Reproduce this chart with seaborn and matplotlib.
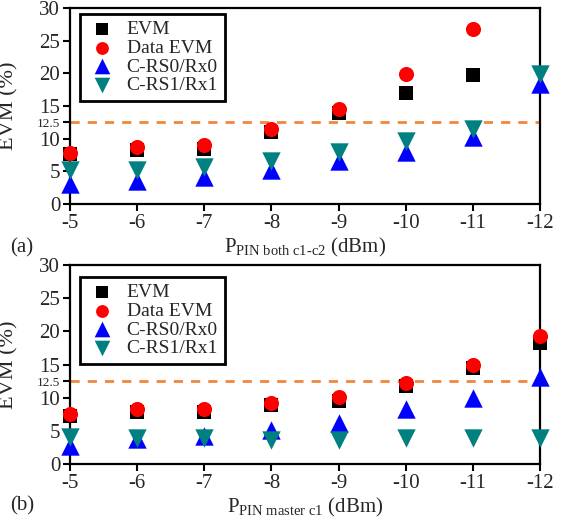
import numpy as np
import pandas as pd
import matplotlib
matplotlib.use("Agg")
import matplotlib.pyplot as plt
import seaborn as sns

# ---- data ----
x_vals = [-5, -6, -7, -8, -9, -10, -11, -12]
x_labels = ["-5", "-6", "-7", "-8", "-9", "-10", "-11", "-12"]

a_evm = [7.6, 8.2, 8.4, 11.0, 14.0, 17.0, 19.7, np.nan]
a_data_evm = [7.8, 8.8, 9.0, 11.5, 14.6, 19.9, 26.8, np.nan]
a_crs0 = [3.0, 3.5, 4.2, 5.2, 6.6, 7.9, 10.3, 18.4]
a_crs1 = [5.2, 5.2, 5.7, 6.6, 7.9, 9.6, 11.5, 19.9]

b_evm = [7.2, 7.9, 7.9, 8.9, 9.5, 11.8, 14.4, 18.3]
b_data_evm = [7.5, 8.25, 8.3, 9.25, 10.15, 12.25, 15.0, 19.3]
b_crs0 = [2.65, 3.8, 4.15, 5.15, 6.15, 8.3, 10.0, 13.15]
b_crs1 = [4.0, 3.9, 3.9, 3.65, 3.65, 3.9, 3.9, 3.9]

series_names = ["EVM", "Data EVM", "C-RS0/Rx0", "C-RS1/Rx1"]
y_ticks = [0, 5, 10, 12.5, 15, 20, 25, 30]
y_tick_labels = ["0", "5", "10", "12.5", "15", "20", "25", "30"]
threshold = 12.5

sns.set_theme(style="white")
plt.rcParams["font.family"] = ["Liberation Serif", "DejaVu Serif"]
plt.rcParams["mathtext.fontset"] = "custom"
plt.rcParams["mathtext.rm"] = "Liberation Serif"
plt.rcParams["mathtext.it"] = "Liberation Serif:italic"
plt.rcParams["mathtext.bf"] = "Liberation Serif:bold"
plt.rcParams["axes.unicode_minus"] = False

styles = {
    "EVM": dict(marker="s", color="#000000", s=90),
    "Data EVM": dict(marker="o", color="#ff0000", s=118),
    "C-RS0/Rx0": dict(marker="^", color="#0000ff", s=175),
    "C-RS1/Rx1": dict(marker="v", color="#008080", s=175),
}

fig = plt.figure(figsize=(5.67, 5.18), dpi=100)
W, H = 567, 518
ax_a = fig.add_axes([70 / W, 1 - 204 / H, 470 / W, 196 / H])
ax_b = fig.add_axes([70 / W, 1 - 464 / H, 470 / W, 199 / H])

panels = [
    (ax_a, [a_evm, a_data_evm, a_crs0, a_crs1],
     r"P$_{\mathrm{PIN\ both\ c1\text{-}c2}}$ (dBm)", "(a)", 248, 6),
    (ax_b, [b_evm, b_data_evm, b_crs0, b_crs1],
     r"P$_{\mathrm{PIN\ master\ c1}}$ (dBm)", "(b)", 506, 12),
]

for ax, ys, xlabel, tag, tag_y, leg_top in panels:
    for name, y in zip(series_names, ys):
        df = pd.DataFrame({"x": x_vals, "y": y}).dropna()
        st = styles[name]
        sns.scatterplot(data=df, x="x", y="y", ax=ax, marker=st["marker"],
                        color=st["color"], s=st["s"], linewidth=0,
                        clip_on=False, label=name, zorder=3)
    ax.axhline(threshold, color="#f0883c", lw=2.0, ls=(0, (3.3, 2.9)), zorder=2)
    ax.set_xlim(-5, -12)
    ax.set_ylim(0, 30)
    ax.set_xticks(x_vals)
    ax.set_xticklabels(x_labels, fontsize=15)
    ax.set_yticks(y_ticks)
    ax.set_yticklabels(y_tick_labels, fontsize=15)
    for lab in ax.get_yticklabels():
        if lab.get_text() == "12.5":
            lab.set_fontsize(9.5)
    ax.tick_params(axis="both", direction="out", length=5, width=1.5,
                   color="black", pad=2, left=True, bottom=True)
    for sp in ax.spines.values():
        sp.set_visible(True)
        sp.set_color("black")
        sp.set_linewidth(1.6)
    ax.set_xlabel(xlabel, fontsize=15, labelpad=2)
    ax.set_ylabel("EVM (%)", fontsize=16)
    ax.yaxis.set_label_coords(-0.11, 0.5)
    leg = ax.legend(loc="upper left",
                    bbox_to_anchor=(10 / 470, 1 - leg_top / ax.bbox.height),
                    borderaxespad=0, fontsize=14, frameon=True, fancybox=False,
                    framealpha=1, edgecolor="black", labelspacing=0.05,
                    handletextpad=0.45, borderpad=0.35, handlelength=1.6,
                    markerscale=0.85)
    leg.get_frame().set_linewidth(2.0)
    fig.text(10 / W, 1 - tag_y / H, tag, fontsize=15, va="center", ha="left")

fig.savefig("out.png", dpi=100)
